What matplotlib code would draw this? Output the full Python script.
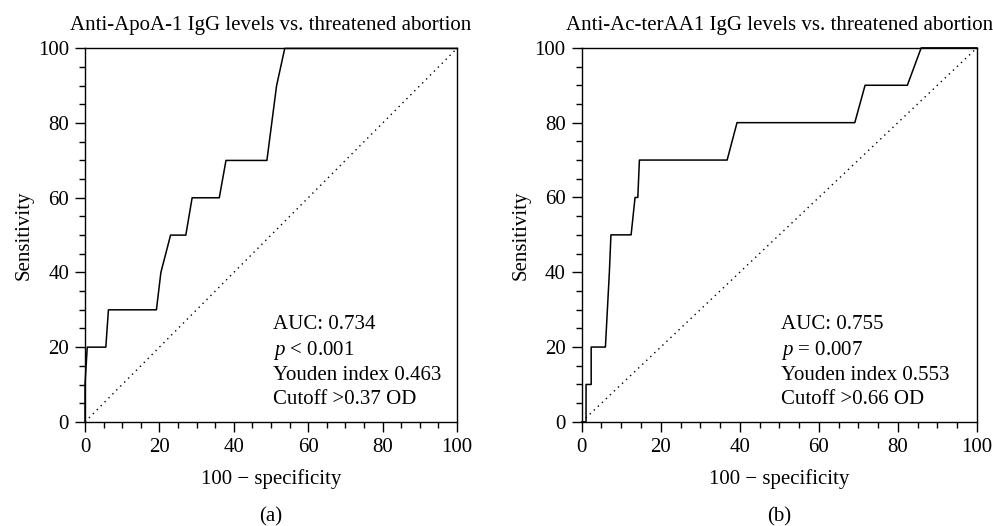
import matplotlib
matplotlib.use('Agg')
import matplotlib.pyplot as plt
from matplotlib.ticker import MultipleLocator

plt.rcParams['font.family'] = ['Liberation Serif', 'DejaVu Serif']
plt.rcParams['mathtext.fontset'] = 'custom'
plt.rcParams['mathtext.rm'] = 'Liberation Serif'
plt.rcParams['mathtext.it'] = 'Liberation Serif:italic'

# ROC curve (a): anti-ApoA-1
fpr_a = [0, 0, 0.6, 5.6, 6.3, 19.2, 20.4, 23.0, 27.1, 28.8, 36.1, 37.9, 48.9, 50.2, 51.5, 53.7, 100]
sens_a = [0, 10, 20, 20, 30, 30, 40, 50, 50, 60, 60, 70, 70, 80, 90, 100, 100]

# ROC curve (b): anti-Ac-terAA1
fpr_b = [0, 1.1, 1.1, 2.4, 2.4, 6.0, 7.0, 7.4, 12.5, 13.5, 14.2, 14.6, 36.8, 39.3, 69.1, 71.7, 82.4, 85.9, 100]
sens_b = [0, 0, 10, 10, 20, 20, 40, 50, 50, 60, 60, 70, 70, 80, 80, 90, 90, 100, 100]

titles = ['Anti-ApoA-1 IgG levels vs. threatened abortion',
          'Anti-Ac-terAA1 IgG levels vs. threatened abortion']
stats_a = ['AUC: 0.734', '$p$ < 0.001', 'Youden index 0.463', 'Cutoff >0.37 OD']
stats_b = ['AUC: 0.755', '$p$ = 0.007', 'Youden index 0.553', 'Cutoff >0.66 OD']
panel_labels = ['(a)', '(b)']
ticks = [0, 20, 40, 60, 80, 100]

fig = plt.figure(figsize=(9.93, 5.26), dpi=100)
ax1 = fig.add_axes([0.0856, 0.198, 0.3746, 0.710])
ax2 = fig.add_axes([0.5858, 0.198, 0.3980, 0.711])

for ax, fpr, sens, title, stats, lab in zip([ax1, ax2], [fpr_a, fpr_b], [sens_a, sens_b],
                                            titles, [stats_a, stats_b], panel_labels):
    ax.plot(fpr, sens, color='black', linewidth=1.1, clip_on=False, zorder=3)
    ax.plot([0, 100], [0, 100], color='black', linestyle=(0, (1, 3)), linewidth=1.0)
    ax.set_xlim(0, 100)
    ax.set_ylim(0, 100)
    ax.set_xticks(ticks)
    ax.set_yticks(ticks)
    ax.xaxis.set_minor_locator(MultipleLocator(5))
    ax.yaxis.set_minor_locator(MultipleLocator(5))
    ax.tick_params(which='major', direction='out', length=7.5, width=1.0, labelsize=15, pad=4)
    ax.tick_params(which='minor', direction='out', length=4.5, width=1.0)
    for s in ax.spines.values():
        s.set_linewidth(1.0)
    ax.set_title(title, fontsize=15, pad=13)
    ax.set_xlabel('100 \u2212 specificity', fontsize=15, labelpad=9)
    ax.set_ylabel('Sensitivity', fontsize=15, labelpad=3)
    ax.text(50.5, 16, '\n'.join(stats), fontsize=15, va='center', ha='left', linespacing=1.3)
    ax.text(0.5, -0.255, lab, transform=ax.transAxes, fontsize=15, ha='center', va='center')

fig.savefig('out.png', dpi=100)
